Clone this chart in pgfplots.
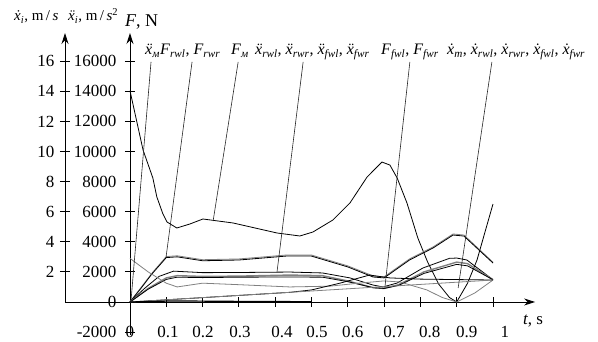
\documentclass[border=0pt]{standalone}
\usepackage{fontspec}
\setmainfont{Liberation Serif}
\usepackage{pgfplots}
\pgfplotsset{compat=1.18}
\usetikzlibrary{arrows.meta}
\newcommand{\xd}{\textit{\accent"02D9 x}}
\newcommand{\xdd}{\textit{\accent"A8 x}}
\newcommand{\sub}[1]{\textsubscript{\textit{#1}}}
\begin{document}
\begin{tikzpicture}[x=1pt,y=1pt]
\path[use as bounding box] (0,0) rectangle (598,342);
% left axis (velocity)
\begin{axis}[
  at={(65pt,40pt)}, anchor=south west, scale only axis,
  width=470.1pt, height=269pt,
  xmin=0, xmax=1, ymin=0, ymax=17.875,
  axis y line=left, axis x line=none,
  every outer y axis line/.append style={line width=0.9pt,-{Stealth[length=11pt,width=7pt]}},
  ytick={2,4,6,8,10,12,14,16},
  yticklabels={2,4,6,8,10,12,14,16},
  scaled y ticks=false,
  tick align=center, major tick length=10pt,
  tick style={black, line width=0.8pt},
  tick label style={font=\fontsize{17}{19}\selectfont},
  yticklabel style={xshift=-2pt},
  /pgf/number format/assume math mode=true,
]
\end{axis}
% main axis
\begin{axis}[
  at={(65pt,6.9pt)}, anchor=south west, scale only axis,
  width=470.1pt, height=302.1pt,
  xmin=-0.179, xmax=1.116, ymin=-2200, ymax=17875,
  axis x line=center, axis y line=center,
  every inner x axis line/.append style={line width=0.9pt,-{Stealth[length=11pt,width=7pt]}},
  every inner y axis line/.append style={line width=0.9pt,-{Stealth[length=11pt,width=7pt]}},
  hide obscured x ticks=false, hide obscured y ticks=false,
  scaled y ticks=false, scaled x ticks=false,
  xtick={0.1,0.2,0.3,0.4,0.5,0.6,0.7,0.8,0.9,1},
  xticklabels={},
  extra x ticks={0,0.105,0.201,0.303,0.419,0.515,0.614,0.727,0.826,0.928,1.033},
  extra x tick labels={0,0.1,0.2,0.3,0.4,0.5,0.6,0.7,0.8,0.9,1},
  extra x tick style={major tick length=0pt, xticklabel style={anchor=center, yshift=-30pt}},
  ytick={-2000,0,2000,4000,6000,8000,10000,12000,14000,16000},
  yticklabels={-2000,0,2000,4000,6000,8000,10000,12000,14000,16000},
  yticklabel style={xshift=-5pt},
  tick align=center, major tick length=10pt,
  tick style={black, line width=0.8pt},
  tick label style={font=\fontsize{17}{19}\selectfont},
  /pgf/number format/assume math mode=true,
  clip=false, no markers,
  every axis plot/.append style={line width=0.8pt},
]
% F_M
\addplot[black] coordinates {(0,14040)(0.036,10100)(0.063,8240)(0.074,6980)(0.09,5900)(0.102,5316)(0.129,4917)(0.165,5183)(0.201,5515)(0.284,5250)(0.405,4585)(0.468,4386)(0.504,4650)(0.559,5450)(0.606,6580)(0.653,8300)(0.694,9300)(0.716,9100)(0.736,8240)(0.763,6580)(0.793,4250)(0.82,2650)(0.85,1200)(0.88,300)(0.9,0)(0.93,1250)(0.956,2790)(1.0,6510)};
% F_rwl, F_rwr
\addplot[gray] coordinates {(0,0)(0.03,950)(0.06,1900)(0.1,3020)(0.13,3070)(0.2,2810)(0.3,2860)(0.43,3120)(0.5,3120)(0.6,2400)(0.67,1730)(0.7,1670)(0.77,2860)(0.835,3660)(0.89,4520)(0.92,4450)(1.0,2640)};
\addplot[black] coordinates {(0,0)(0.03,900)(0.06,1850)(0.1,2950)(0.13,3000)(0.2,2740)(0.3,2790)(0.43,3050)(0.5,3050)(0.6,2330)(0.67,1660)(0.7,1600)(0.77,2790)(0.835,3590)(0.89,4450)(0.92,4380)(1.0,2590)};
% ~2000 curve
\addplot[black] coordinates {(0,0)(0.04,900)(0.08,1700)(0.12,2050)(0.2,1950)(0.3,1960)(0.44,1990)(0.53,1930)(0.606,1600)(0.669,1130)(0.697,1000)(0.736,1260)(0.807,2260)(0.88,2900)(0.9,2920)(0.928,2790)(1.0,1480)};
% ~1750 curves
\addplot[gray, line width=1.4pt] coordinates {(0,0)(0.05,900)(0.1,1600)(0.13,1750)(0.2,1700)(0.3,1720)(0.44,1790)(0.53,1750)(0.6,1400)(0.67,950)(0.7,900)(0.74,1150)(0.81,2000)(0.9,2650)(0.93,2550)(1.0,1480)};
\addplot[black] coordinates {(0,0)(0.05,850)(0.1,1500)(0.13,1650)(0.2,1620)(0.3,1650)(0.44,1660)(0.53,1650)(0.6,1350)(0.67,950)(0.7,900)(0.74,1100)(0.81,1900)(0.9,2500)(0.93,2400)(1.0,1480)};
% dip curve
\addplot[gray] coordinates {(0,2900)(0.05,2000)(0.1,1250)(0.13,1000)(0.2,1250)(0.3,1150)(0.44,1000)(0.55,1050)(0.63,1250)(0.7,1400)(0.744,1330)(0.818,800)(0.86,300)(0.9,0)(0.95,600)(1.0,1460)};
% S curve
\addplot[black] coordinates {(0,0)(0.2,290)(0.44,640)(0.5,800)(0.58,1260)(0.66,1790)(0.716,1600)(0.8,1520)(1.0,1460)};
% ramp
\addplot[gray] coordinates {(0,0)(1.0,1460)};
% near-zero
\addplot[black, line width=1.2pt] coordinates {(0,0)(0.12,70)(0.3,40)(0.5,20)};
% leader lines
\addplot[black!85, line width=0.6pt] coordinates {(0.058,15950)(0.003,130)};
\addplot[black!85, line width=0.6pt] coordinates {(0.171,15950)(0.099,2920)};
\addplot[black!85, line width=0.6pt] coordinates {(0.298,15950)(0.229,5380)};
\addplot[black!85, line width=0.6pt] coordinates {(0.477,15950)(0.405,1990)};
\addplot[black!85, line width=0.6pt] coordinates {(0.771,15950)(0.702,930)};
\addplot[black!85, line width=0.6pt] coordinates {(0.997,15950)(0.904,930)};
\end{axis}
% headers
\node[anchor=base west, inner sep=0pt, font=\fontsize{15}{17}\selectfont] at (14,321) {\xd\sub{i}, m\,/\,\textit{s}};
\node[anchor=base west, inner sep=0pt, font=\fontsize{15}{17}\selectfont] at (68,321) {\xdd\sub{i}, m\,/\,\textit{s}\textsuperscript{2}};
\node[anchor=base west, inner sep=0pt, font=\fontsize{18}{20}\selectfont] at (125,315) {\textit{F}, N};
% annotation labels
\begin{scope}[every node/.style={anchor=base west, inner sep=0pt, font=\fontsize{16}{18}\selectfont}]
\node at (145,287) {\xdd\sub{м}};
\node at (160,287) {\textit{F}\sub{rwl}, \textit{F}\sub{rwr}};
\node at (231,287) {\textit{F}\sub{м}};
\node at (255,287) {\xdd\sub{rwl}, \xdd\sub{rwr}, \xdd\sub{fwl}, \xdd\sub{fwr}};
\node at (381,287) {\textit{F}\sub{fwl}, \textit{F}\sub{fwr}};
\node at (447,287) {\xd\sub{m}, \xd\sub{rwl}, \xd\sub{rwr}, \xd\sub{fwl}, \xd\sub{fwr}};
\end{scope}
\node[anchor=center, inner sep=0pt, font=\fontsize{17}{19}\selectfont] at (533,21) {\textit{t}, s};
\end{tikzpicture}
\end{document}
